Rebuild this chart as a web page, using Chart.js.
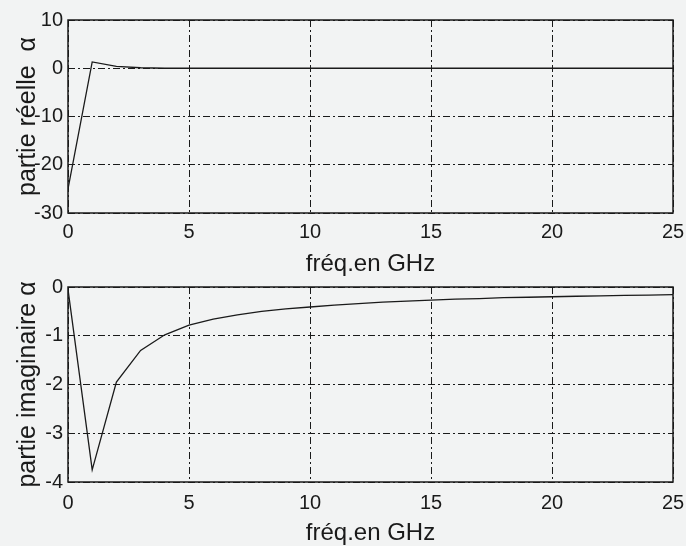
<!DOCTYPE html>
<html>
<head>
<meta charset="utf-8">
<script src="https://cdn.jsdelivr.net/npm/chart.js@4.4.1/dist/chart.umd.min.js"></script>
<style>
  body { margin:0; background:#f2f3f3; }
  #wrap { position:relative; width:686px; height:546px; }
  canvas { position:absolute; left:0; }
  #top { top:0; }
  #bot { top:270px; }
</style>
</head>
<body>
<div id="wrap">
  <canvas id="top" width="686" height="290"></canvas>
  <canvas id="bot" width="686" height="276"></canvas>
</div>
<script>
// frequencies in GHz
var freq = [0,1,2,3,4,5,6,7,8,9,10,11,12,13,14,15,16,17,18,19,20,21,22,23,24,25];
// real part of alpha
var reel = [-25,1.3,0.4,0.1,0,0,0,0,0,0,0,0,0,0,0,0,0,0,0,0,0,0,0,0,0,0];
// imaginary part of alpha
var imag = [-0.05,-3.75,-1.95,-1.3,-0.98,-0.78,-0.66,-0.57,-0.5,-0.45,-0.41,-0.37,-0.34,-0.31,-0.29,-0.27,-0.25,-0.24,-0.22,-0.21,-0.2,-0.19,-0.18,-0.17,-0.165,-0.155];

var xTicks = [0,5,10,15,20,25];
var yTicksTop = [-30,-20,-10,0,10];
var yTicksBot = [-4,-3,-2,-1,0];

var FONT = "'Liberation Sans', Arial, sans-serif";
var INK = '#1a1a1a';

function pts(ys){
    var out = [];
    for(var i = 0; i<freq.length; i++){
        out.push({x:freq[i], y:ys[i]});
    }
    return out;
}

// draws the plot box like matlab does
var boxPlugin = {
    id:'box',
    afterDraw:function(chart){
        var a = chart.chartArea, ctx = chart.ctx;
        ctx.save();
        ctx.strokeStyle = INK;
        ctx.lineWidth = 1.5;
        ctx.setLineDash([]);
        ctx.strokeRect(a.left, a.top, a.right-a.left, a.bottom-a.top);
        ctx.restore();
    }
};

function makeChart(id, ys, yTicks, ymin, ymax, yTitle, padTop, xHeight, tickPad, titlePad){
    return new Chart(document.getElementById(id), {
        type:'line',
        data:{
            datasets:[{
                data:pts(ys),
                borderColor:INK,
                borderWidth:1.3,
                pointRadius:0,
                tension:0,
                fill:false
            }]
        },
        options:{
            responsive:false,
            animation:false,
            layout:{ padding:{ top:padTop, right:13, left:0, bottom:0 } },
            plugins:{ legend:{display:false}, tooltip:{enabled:false} },
            scales:{
                x:{
                    type:'linear', min:0, max:25,
                    afterBuildTicks:function(s){ s.ticks = xTicks.map(function(v){ return {value:v}; }); },
                    afterFit:function(s){ s.height = xHeight; s.paddingLeft = 0; s.paddingRight = 0; },
                    grid:{ color:INK, lineWidth:1, drawTicks:false },
                    border:{ display:false, dash:[7,3,2,3] },
                    ticks:{ color:INK, padding:tickPad, maxRotation:0, font:{family:FONT, size:20} },
                    title:{ display:true, text:'fréq.en GHz', color:INK, padding:{top:0, bottom:titlePad}, font:{family:FONT, size:24} }
                },
                y:{
                    type:'linear', min:ymin, max:ymax,
                    afterBuildTicks:function(s){ s.ticks = yTicks.map(function(v){ return {value:v}; }); },
                    afterFit:function(s){ s.width = 68; s.paddingTop = 0; s.paddingBottom = 0; },
                    grid:{ color:INK, lineWidth:1, drawTicks:false },
                    border:{ display:false, dash:[7,3,2,3] },
                    ticks:{ color:INK, padding:5, font:{family:FONT, size:20} },
                    title:{ display:true, text:yTitle, color:INK, padding:{top:13, bottom:0}, font:{family:FONT, size:25} }
                }
            }
        },
        plugins:[boxPlugin]
    });
}

makeChart('top', reel, yTicksTop, -30, 10, 'partie réelle  α', 20, 77, 7, 11);
makeChart('bot', imag, yTicksBot, -4, 0, 'partie imaginaire α', 17, 64, 9, -2);
</script>
</body>
</html>
